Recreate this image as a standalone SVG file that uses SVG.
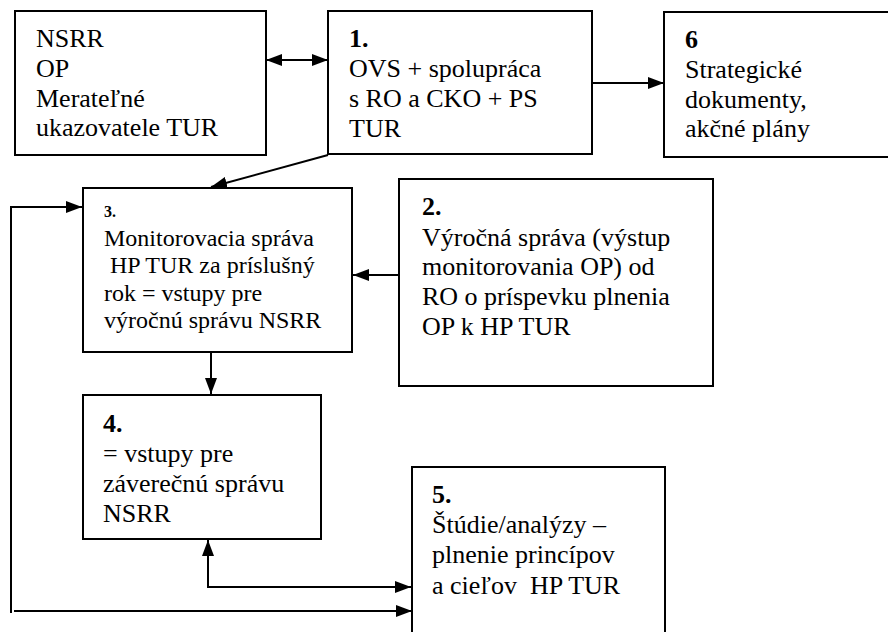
<svg xmlns="http://www.w3.org/2000/svg" width="888" height="632" viewBox="0 0 888 632">
<style>
.box{fill:#fff;stroke:#000;stroke-width:2}
.tx{font-family:'Liberation Serif','Times New Roman',serif;font-size:26px;fill:#000}
.num{font-weight:bold}
.small{font-size:16px;font-weight:bold}
.t24{font-size:24px}
.c{fill:none;stroke:#000;stroke-width:2}
</style>
<defs>
<marker id="ah" viewBox="0 0 16 12" refX="16" refY="6" markerWidth="16" markerHeight="12" markerUnits="userSpaceOnUse" orient="auto-start-reverse">
<path d="M0,0 L16,6 L0,12 Z" fill="#000"/>
</marker>
</defs>
<rect width="888" height="632" fill="#fff"/>
<g id="connectors">
<line class="c" x1="266" y1="60" x2="328" y2="60" marker-start="url(#ah)" marker-end="url(#ah)"/>
<line class="c" x1="592" y1="83" x2="664" y2="83" marker-end="url(#ah)"/>
<line class="c" x1="328" y1="155" x2="211" y2="187" marker-end="url(#ah)"/>
<line class="c" x1="399" y1="275" x2="353" y2="275" marker-end="url(#ah)"/>
<line class="c" x1="211" y1="353" x2="211" y2="394" marker-end="url(#ah)"/>
<line class="c" x1="208" y1="587" x2="208" y2="540" marker-end="url(#ah)"/>
<line class="c" x1="207" y1="587" x2="411" y2="587" marker-end="url(#ah)"/>
<polyline class="c" points="11,613 11,207 82,207" marker-end="url(#ah)"/>
<line class="c" x1="14" y1="611" x2="412" y2="611" marker-end="url(#ah)"/>
</g>
<g id="node-nsrr" class="tx">
<rect class="box" x="15" y="11" width="251" height="144"/>
<text x="36" y="47">NSRR</text>
<text x="36" y="77">OP</text>
<text x="36" y="107">Merateľné</text>
<text x="36" y="136">ukazovatele TUR</text>
</g>
<g id="node-1" class="tx">
<rect class="box" x="328" y="11" width="264" height="143"/>
<text class="num" x="349" y="47">1.</text>
<text x="349" y="77">OVS + spolupráca</text>
<text x="349" y="107">s RO a CKO + PS</text>
<text x="349" y="137">TUR</text>
</g>
<g id="node-6" class="tx">
<rect class="box" x="664" y="12" width="230" height="145"/>
<text class="num" x="685" y="48">6</text>
<text x="685" y="78">Strategické</text>
<text x="685" y="108">dokumenty,</text>
<text x="685" y="137">akčné plány</text>
</g>
<g id="node-3" class="tx">
<rect class="box" x="83" y="188" width="269" height="164"/>
<text class="small" x="104" y="217">3.</text>
<text class="t24" x="104" y="246">Monitorovacia správa</text>
<text class="t24" x="110" y="273">HP TUR za príslušný</text>
<text class="t24" x="104" y="301">rok = vstupy pre</text>
<text class="t24" x="104" y="328">výročnú správu NSRR</text>
</g>
<g id="node-2" class="tx">
<rect class="box" x="399" y="179" width="314" height="207"/>
<text class="num" x="422" y="215">2.</text>
<text x="422" y="246">Výročná správa (výstup</text>
<text x="422" y="275">monitorovania OP) od</text>
<text x="422" y="305">RO o príspevku plnenia</text>
<text x="422" y="335">OP k HP TUR</text>
</g>
<g id="node-4" class="tx">
<rect class="box" x="83" y="395" width="238" height="144"/>
<text class="num" x="103" y="432">4.</text>
<text x="103" y="462">= vstupy pre</text>
<text x="103" y="492">záverečnú správu</text>
<text x="103" y="522">NSRR</text>
</g>
<g id="node-5" class="tx">
<rect class="box" x="412" y="467" width="253" height="180"/>
<text class="num" x="432" y="503">5.</text>
<text x="432" y="533">Štúdie/analýzy –</text>
<text x="432" y="563">plnenie princípov</text>
<text x="432" y="594" xml:space="preserve">a cieľov  HP TUR</text>
</g>
</svg>
